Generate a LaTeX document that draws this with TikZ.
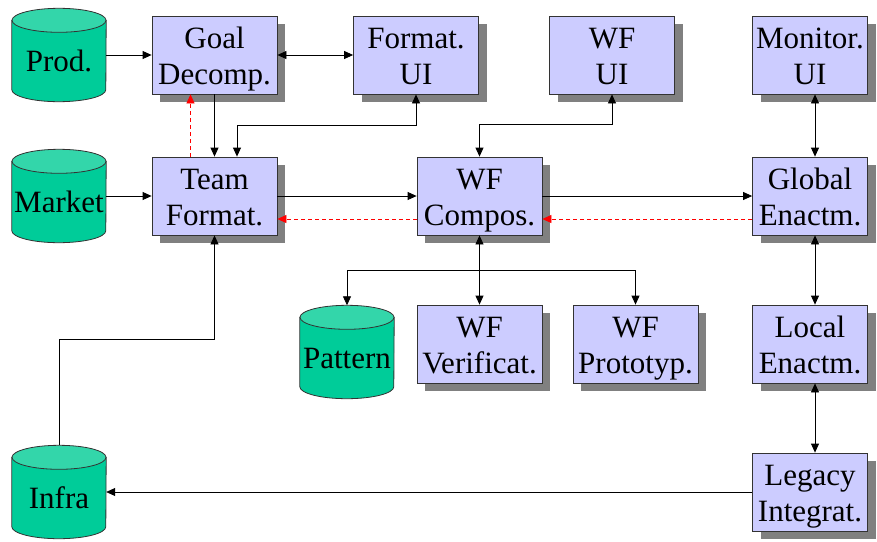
\documentclass[tikz,border=0pt]{standalone}
\usepackage{fontspec}
\setmainfont{Liberation Serif}
\newfontfamily\diafont{Liberation Serif}
\usetikzlibrary{arrows.meta,backgrounds}

\definecolor{boxfill}{HTML}{CCCCFF}
\definecolor{drumbody}{HTML}{00CC99}
\definecolor{drumtop}{HTML}{33D6AA}
\definecolor{shade}{HTML}{808080}

\tikzset{
  bigtext/.style={font=\diafont\fontsize{31pt}{36pt}\selectfont},
  proc/.style={bigtext, draw=black!80, line width=0.8pt, fill=boxfill,
    minimum width=125pt, minimum height=78pt, inner sep=0pt, align=center,
    text height=60pt, text depth=2pt,
    preaction={fill=shade, transform canvas={xshift=8pt, yshift=-8pt}}},
  narrow/.style={minimum width=115pt},
  drum/.style={bigtext, minimum width=94pt, minimum height=93pt, inner sep=0pt,
    text height=32pt, text depth=0pt},
  tip/.tip={Triangle[length=9pt, width=8pt]},
  link/.style={line width=0.8pt, draw=black, -tip},
  twoway/.style={line width=0.8pt, draw=black, tip-tip},
  feedback/.style={line width=0.8pt, draw=red, dash pattern=on 4pt off 3pt,
    -{Triangle[length=9pt, width=8pt, fill=red]}},
}

% cylinder outline drawn behind a drum node
\newcommand\drawdrum[1]{%
  \begin{pgfonlayer}{background}
    \filldraw[draw=black!80, line width=0.8pt, fill=drumbody]
      ([yshift=-12pt]#1.north west) -- ([yshift=12pt]#1.south west)
      arc[start angle=180, end angle=360, x radius=47pt, y radius=12pt]
      -- ([yshift=-12pt]#1.north east) -- cycle;
    \filldraw[draw=black!80, line width=0.8pt, fill=drumtop]
      ([yshift=-12pt]#1.north) ellipse[x radius=47pt, y radius=12pt];
  \end{pgfonlayer}}

\begin{document}
\begin{tikzpicture}[x=1pt, y=-1pt]
  \useasboundingbox (0,0) rectangle (877,541);

  % data stores
  \node[drum] (prod)    at (59,55)    {Prod.};
  \node[drum] (market)  at (59,196)   {Market};
  \node[drum] (pattern) at (347,352)  {Pattern};
  \node[drum] (infra)   at (59,492)   {Infra};
  \drawdrum{prod}
  \drawdrum{market}
  \drawdrum{pattern}
  \drawdrum{infra}

  % process boxes
  \node[proc] (goal)   at (214.5,55)  {Goal\\Decomp.};
  \node[proc] (fmtui)  at (416,55)    {Format.\\UI};
  \node[proc] (wfui)   at (612,55)    {WF\\UI};
  \node[proc, narrow] (monui)  at (810,55)  {Monitor.\\UI};
  \node[proc] (team)   at (214.5,196) {Team\\Format.};
  \node[proc] (wfc)    at (479.5,196) {WF\\Compos.};
  \node[proc, narrow] (glob)   at (810,196) {Global\\Enactm.};
  \node[proc] (wfv)    at (479.5,344) {WF\\Verificat.};
  \node[proc] (wfp)    at (635.5,344) {WF\\Prototyp.};
  \node[proc, narrow] (local)  at (810,344) {Local\\Enactm.};
  \node[proc, narrow] (legacy) at (810,492) {Legacy\\Integrat.};

  % top rows
  \draw[link]   (prod.east) -- (goal.west);
  \draw[twoway] (goal.east) -- (fmtui.west);
  \draw[link]   (goal.south) -- (team.north);
  \draw[feedback] ([xshift=-24pt]team.north) -- ([xshift=-24pt]goal.south);
  \draw[twoway] (fmtui.south) -- ++(0,31) -| ([xshift=22.5pt]team.north);
  \draw[twoway] (wfui.south) -- ++(0,30) -| (wfc.north);
  \draw[twoway] ([xshift=5pt]monui.south) -- ([xshift=5pt]glob.north);

  % main chain
  \draw[link] (market.east) -- (team.west);
  \draw[link] (team.east) -- (wfc.west);
  \draw[link] (wfc.east) -- (glob.west);
  \draw[feedback] ([yshift=-23pt]glob.west) -- ([yshift=-23pt]wfc.east);
  \draw[feedback] ([yshift=-23pt]wfc.west) -- ([yshift=-23pt]team.east);

  % workflow tools
  \coordinate (split) at (479.5,270);
  \draw[twoway] (wfc.south) -- (wfv.north);
  \draw[link] (split) -| (pattern.north);
  \draw[link] (split) -| (wfp.north);

  % enactment chain
  \draw[twoway] ([xshift=5pt]glob.south) -- ([xshift=5pt]local.north);
  \draw[twoway] ([xshift=5pt]local.south) -- ([xshift=5pt]legacy.north);
  \draw[link] (legacy.west) -- (infra.east);
  \draw[link] (infra.north) -- ++(0,-106) -| (team.south);
\end{tikzpicture}
\end{document}
